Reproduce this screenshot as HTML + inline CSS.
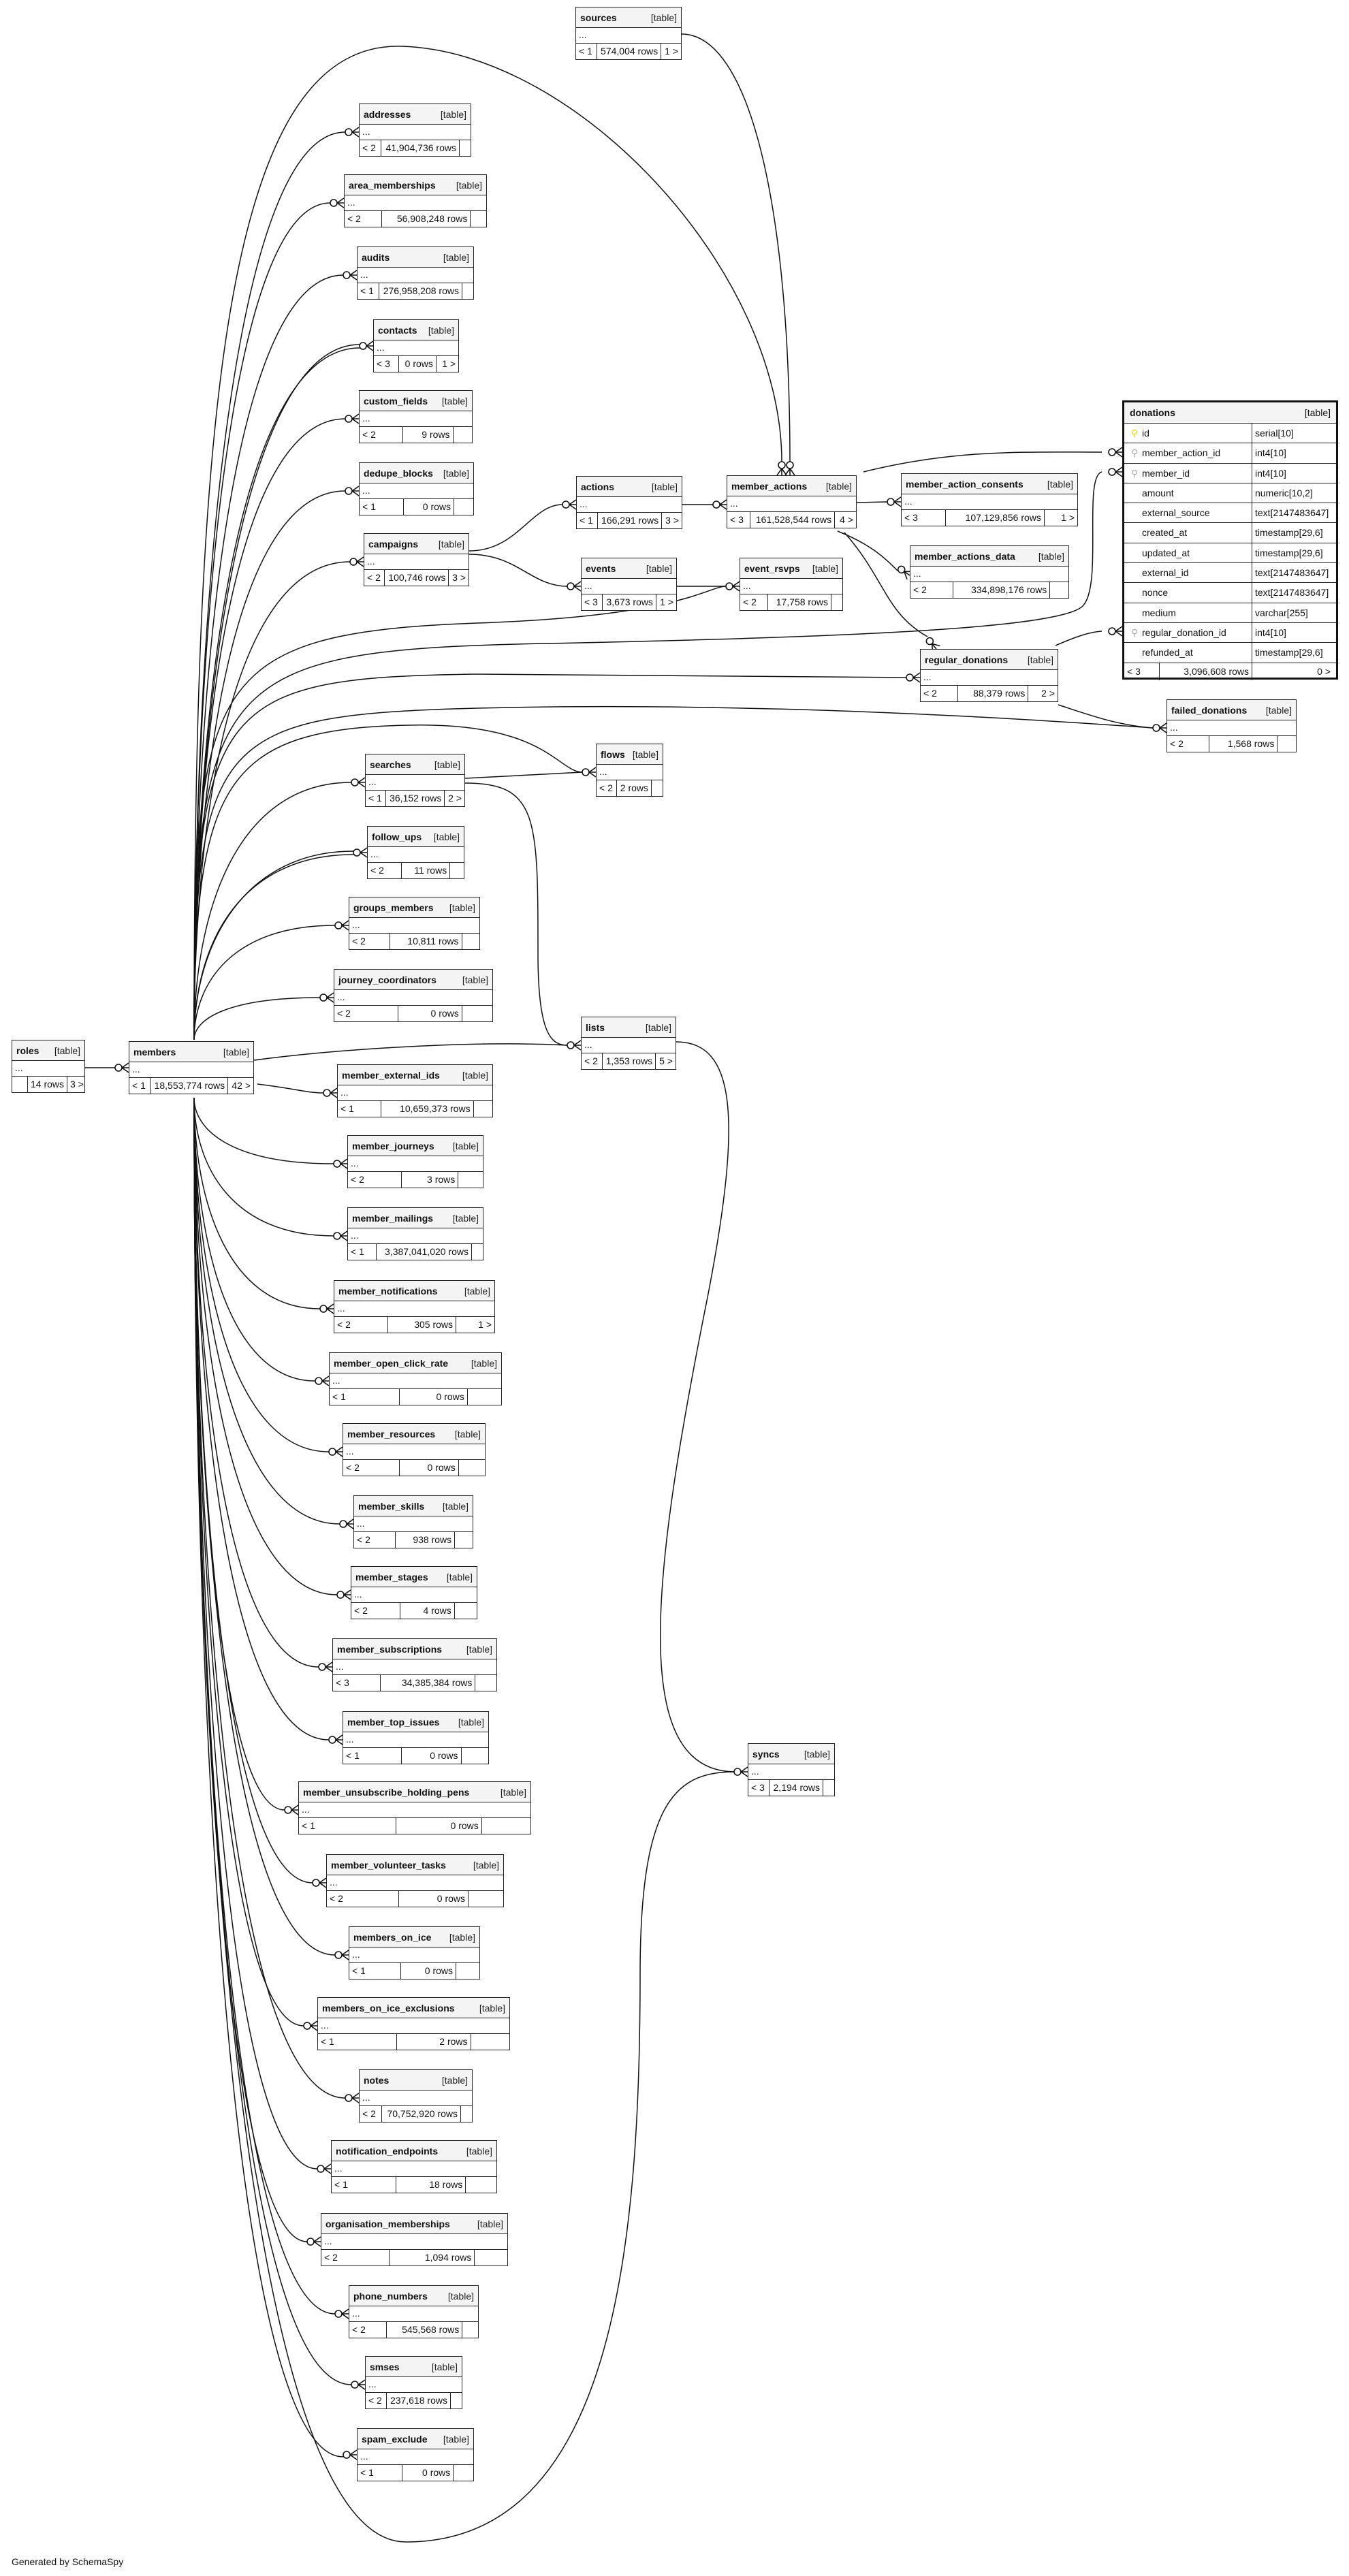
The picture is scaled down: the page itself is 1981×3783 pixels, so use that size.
<!DOCTYPE html>
<html><head><meta charset="utf-8"><style>
body{margin:0;width:1981px;height:3783px;background:#fff;position:relative;overflow:hidden;font-family:"Liberation Sans",sans-serif;font-size:14px;color:#111}
svg{position:absolute;left:0;top:0}
.t{position:absolute;border:1.5px solid #222;background:#fff;box-sizing:border-box;height:78px}
.h{height:29px;background:#f4f4f4;border-bottom:1.5px solid #222;display:flex;justify-content:space-between;align-items:center;padding:0 6px;white-space:nowrap}
.h span{color:#222}
.b{height:22px;border-bottom:1.5px solid #222;line-height:20px;padding-left:4px}
.f{display:flex;height:23px;line-height:23px}
.f span{border-left:1.5px solid #222;white-space:nowrap;box-sizing:border-box}
.f span:first-child{border-left:none}
.l{flex:4.5 1 auto;padding:0 4px;min-width:28px}
.r{flex:3 1 auto;text-align:right;padding:0 4px}
.c{flex:2.5 1 auto;min-width:17px;text-align:right;padding:0 4px}
.d{position:absolute;left:1648px;top:588px;width:317px;height:410px;border:3px solid #111;box-sizing:border-box;background:#fff}
.d .dh{height:30px;background:#f4f4f4;border-bottom:1.5px solid #222;display:flex;justify-content:space-between;align-items:center;padding:0 8px}
.d .row{display:flex;height:29.3px;line-height:28px;border-bottom:1.5px solid #222;box-sizing:border-box}
.d .row .k{width:188px;border-right:1.5px solid #222;padding-left:10px;box-sizing:border-box;position:relative}
.d .row .k i{display:inline-block;width:16px;font-style:normal}
.d .row .v{padding-left:4px}
.gen{position:absolute;left:17px;top:3754px;font-size:14px}
</style></head><body>
<svg width="1981" height="3783" viewBox="0 0 1981 3783">
<defs>
<g id="cr" fill="none" stroke="#111" stroke-width="1.6"><circle cx="-15" cy="0" r="5" fill="#fff"/><path d="M-10,0 L0,-7 M-10,0 L0,0 M-10,0 L0,7"/></g>
</defs>
<g fill="none" stroke="#111" stroke-width="1.5">
<path d="M285,1527 C285,860 345,194 507,194"/>
<path d="M285,1527 C285,912 340,298 485,298"/>
<path d="M285,1527 C285,965 345,404 504,404"/>
<path d="M285,1527 C285,1019 351,511 528,511"/>
<path d="M285,1527 C285,1017 360,506 528,506"/>
<path d="M285,1527 C285,1071 345,615 507,615"/>
<path d="M285,1527 C285,1124 345,721 507,721"/>
<path d="M285,1527 C285,1176 347,825 514,825"/>
<path d="M285,1527 C285,1338 348,1149 516,1149"/>
<path d="M285,1527 C285,1391 349,1255 519,1255"/>
<path d="M285,1527 C285,1385 360,1250 519,1250"/>
<path d="M285,1527 C285,1443 342,1359 492,1359"/>
<path d="M285,1527 C285,1496 336,1465 470,1465"/>
<path d="M378,1592 C430,1598 450,1605 475,1605"/>
<path d="M285,1612 C285,1660 341,1709 490,1709"/>
<path d="M285,1612 C285,1713 341,1815 490,1815"/>
<path d="M285,1612 C285,1767 336,1922 470,1922"/>
<path d="M285,1612 C285,1820 335,2028 463,2028"/>
<path d="M285,1612 C285,1872 340,2132 483,2132"/>
<path d="M285,1612 C285,1925 344,2238 499,2238"/>
<path d="M285,1612 C285,1977 343,2342 495,2342"/>
<path d="M285,1612 C285,2030 336,2448 468,2448"/>
<path d="M285,1612 C285,2083 340,2555 483,2555"/>
<path d="M285,1612 C285,2135 323,2658 418,2658"/>
<path d="M285,1612 C285,2188 334,2765 459,2765"/>
<path d="M285,1612 C285,2241 342,2871 492,2871"/>
<path d="M285,1612 C285,2293 330,2975 446,2975"/>
<path d="M285,1612 C285,2346 345,3081 507,3081"/>
<path d="M285,1612 C285,2398 335,3185 466,3185"/>
<path d="M285,1612 C285,2452 332,3292 451,3292"/>
<path d="M285,1612 C285,2505 342,3398 492,3398"/>
<path d="M285,1612 C285,2557 348,3502 516,3502"/>
<path d="M285,1612 C285,2610 345,3608 504,3608"/>
<path d="M125,1568 L169,1568"/>
<path d="M1001,50 C1100,50 1160,300 1160,678"/>
<path d="M285,1525 C285,600 330,60 590,68 C850,76 1148,400 1148,678"/>
<path d="M689,809 C760,809 780,741 826,741"/>
<path d="M689,814 C760,814 780,861 833,861"/>
<path d="M994,861 L1066,861"/>
<path d="M285,1525 C285,1000 300,930 700,915 C1000,905 1040,861 1066,861"/>
<path d="M1002,741 L1047,741"/>
<path d="M1258,738 L1303,737"/>
<path d="M1230,780 C1280,800 1300,820 1318,838"/>
<path d="M1240,782 C1300,850 1300,900 1362,935"/>
<path d="M1268,693 C1400,660 1500,664 1618,664"/>
<path d="M285,1525 C285,990 320,955 800,945 C1300,935 1560,920 1590,890 C1620,860 1590,700 1618,693"/>
<path d="M285,1525 C285,1030 320,995 700,990 L1331,995"/>
<path d="M285,1525 C285,1080 320,1050 700,1040 C1100,1030 1500,1055 1693,1069"/>
<path d="M1554,1035 C1600,1050 1640,1065 1693,1069"/>
<path d="M1550,948 C1580,935 1600,928 1618,927"/>
<path d="M683,1143 L855,1134"/>
<path d="M285,1525 C285,1150 330,1070 600,1065 C800,1060 820,1134 855,1134"/>
<path d="M683,1150 C790,1150 790,1200 790,1400 C790,1520 810,1535 833,1535"/>
<path d="M373,1557 C500,1540 700,1528 833,1535"/>
<path d="M993,1530 C1080,1530 1090,1640 1040,1900 C960,2300 920,2600 1078,2602"/>
<path d="M285,1612 C285,2800 380,3733 596,3733 C900,3733 940,3300 940,2900 C940,2650 990,2602 1078,2602"/>
</g>
<use href="#cr" transform="translate(527,194)"/>
<use href="#cr" transform="translate(505,298)"/>
<use href="#cr" transform="translate(524,404)"/>
<use href="#cr" transform="translate(548,508)"/>
<use href="#cr" transform="translate(527,615)"/>
<use href="#cr" transform="translate(527,721)"/>
<use href="#cr" transform="translate(534,825)"/>
<use href="#cr" transform="translate(536,1149)"/>
<use href="#cr" transform="translate(539,1252)"/>
<use href="#cr" transform="translate(512,1359)"/>
<use href="#cr" transform="translate(490,1465)"/>
<use href="#cr" transform="translate(495,1605)"/>
<use href="#cr" transform="translate(510,1709)"/>
<use href="#cr" transform="translate(510,1815)"/>
<use href="#cr" transform="translate(490,1922)"/>
<use href="#cr" transform="translate(483,2028)"/>
<use href="#cr" transform="translate(503,2132)"/>
<use href="#cr" transform="translate(519,2238)"/>
<use href="#cr" transform="translate(515,2342)"/>
<use href="#cr" transform="translate(488,2448)"/>
<use href="#cr" transform="translate(503,2555)"/>
<use href="#cr" transform="translate(438,2658)"/>
<use href="#cr" transform="translate(479,2765)"/>
<use href="#cr" transform="translate(512,2871)"/>
<use href="#cr" transform="translate(466,2975)"/>
<use href="#cr" transform="translate(527,3081)"/>
<use href="#cr" transform="translate(486,3185)"/>
<use href="#cr" transform="translate(471,3292)"/>
<use href="#cr" transform="translate(512,3398)"/>
<use href="#cr" transform="translate(536,3502)"/>
<use href="#cr" transform="translate(524,3605)"/>
<use href="#cr" transform="translate(189,1568)"/>
<use href="#cr" transform="translate(1148,698) rotate(90)"/>
<use href="#cr" transform="translate(1160,698) rotate(90)"/>
<use href="#cr" transform="translate(846,741)"/>
<use href="#cr" transform="translate(853,861)"/>
<use href="#cr" transform="translate(1086,861)"/>
<use href="#cr" transform="translate(1067,741)"/>
<use href="#cr" transform="translate(1323,737)"/>
<use href="#cr" transform="translate(1336,845) rotate(35)"/>
<use href="#cr" transform="translate(1375,953) rotate(50)"/>
<use href="#cr" transform="translate(1648,664)"/>
<use href="#cr" transform="translate(1648,693)"/>
<use href="#cr" transform="translate(1351,995)"/>
<use href="#cr" transform="translate(1713,1069)"/>
<use href="#cr" transform="translate(1648,927)"/>
<use href="#cr" transform="translate(875,1134)"/>
<use href="#cr" transform="translate(853,1535)"/>
<use href="#cr" transform="translate(1098,2602)"/>
</svg>

<div class="t" style="left:845px;top:10px;width:156px"><div class="h"><b>sources</b><span>[table]</span></div><div class="b">...</div><div class="f"><span class="l">&lt; 1</span><span class="r">574,004 rows</span><span class="c">1 &gt;</span></div></div>
<div class="t" style="left:527px;top:152px;width:165px"><div class="h"><b>addresses</b><span>[table]</span></div><div class="b">...</div><div class="f"><span class="l">&lt; 2</span><span class="r">41,904,736 rows</span><span class="c"></span></div></div>
<div class="t" style="left:505px;top:256px;width:210px"><div class="h"><b>area_memberships</b><span>[table]</span></div><div class="b">...</div><div class="f"><span class="l">&lt; 2</span><span class="r">56,908,248 rows</span><span class="c"></span></div></div>
<div class="t" style="left:524px;top:362px;width:172px"><div class="h"><b>audits</b><span>[table]</span></div><div class="b">...</div><div class="f"><span class="l">&lt; 1</span><span class="r">276,958,208 rows</span><span class="c"></span></div></div>
<div class="t" style="left:548px;top:469px;width:126px"><div class="h"><b>contacts</b><span>[table]</span></div><div class="b">...</div><div class="f"><span class="l">&lt; 3</span><span class="r">0 rows</span><span class="c">1 &gt;</span></div></div>
<div class="t" style="left:527px;top:573px;width:167px"><div class="h"><b>custom_fields</b><span>[table]</span></div><div class="b">...</div><div class="f"><span class="l">&lt; 2</span><span class="r">9 rows</span><span class="c"></span></div></div>
<div class="t" style="left:527px;top:679px;width:169px"><div class="h"><b>dedupe_blocks</b><span>[table]</span></div><div class="b">...</div><div class="f"><span class="l">&lt; 1</span><span class="r">0 rows</span><span class="c"></span></div></div>
<div class="t" style="left:534px;top:783px;width:155px"><div class="h"><b>campaigns</b><span>[table]</span></div><div class="b">...</div><div class="f"><span class="l">&lt; 2</span><span class="r">100,746 rows</span><span class="c">3 &gt;</span></div></div>
<div class="t" style="left:846px;top:699px;width:156px"><div class="h"><b>actions</b><span>[table]</span></div><div class="b">...</div><div class="f"><span class="l">&lt; 1</span><span class="r">166,291 rows</span><span class="c">3 &gt;</span></div></div>
<div class="t" style="left:853px;top:819px;width:141px"><div class="h"><b>events</b><span>[table]</span></div><div class="b">...</div><div class="f"><span class="l">&lt; 3</span><span class="r">3,673 rows</span><span class="c">1 &gt;</span></div></div>
<div class="t" style="left:1067px;top:698px;width:191px"><div class="h"><b>member_actions</b><span>[table]</span></div><div class="b">...</div><div class="f"><span class="l">&lt; 3</span><span class="r">161,528,544 rows</span><span class="c">4 &gt;</span></div></div>
<div class="t" style="left:1086px;top:819px;width:152px"><div class="h"><b>event_rsvps</b><span>[table]</span></div><div class="b">...</div><div class="f"><span class="l">&lt; 2</span><span class="r">17,758 rows</span><span class="c"></span></div></div>
<div class="t" style="left:1323px;top:695px;width:260px"><div class="h"><b>member_action_consents</b><span>[table]</span></div><div class="b">...</div><div class="f"><span class="l">&lt; 3</span><span class="r">107,129,856 rows</span><span class="c">1 &gt;</span></div></div>
<div class="t" style="left:1336px;top:801px;width:234px"><div class="h"><b>member_actions_data</b><span>[table]</span></div><div class="b">...</div><div class="f"><span class="l">&lt; 2</span><span class="r">334,898,176 rows</span><span class="c"></span></div></div>
<div class="t" style="left:1351px;top:953px;width:203px"><div class="h"><b>regular_donations</b><span>[table]</span></div><div class="b">...</div><div class="f"><span class="l">&lt; 2</span><span class="r">88,379 rows</span><span class="c">2 &gt;</span></div></div>
<div class="t" style="left:1713px;top:1027px;width:191px"><div class="h"><b>failed_donations</b><span>[table]</span></div><div class="b">...</div><div class="f"><span class="l">&lt; 2</span><span class="r">1,568 rows</span><span class="c"></span></div></div>
<div class="t" style="left:536px;top:1107px;width:147px"><div class="h"><b>searches</b><span>[table]</span></div><div class="b">...</div><div class="f"><span class="l">&lt; 1</span><span class="r">36,152 rows</span><span class="c">2 &gt;</span></div></div>
<div class="t" style="left:875px;top:1092px;width:99px"><div class="h"><b>flows</b><span>[table]</span></div><div class="b">...</div><div class="f"><span class="l">&lt; 2</span><span class="r">2 rows</span><span class="c"></span></div></div>
<div class="t" style="left:539px;top:1213px;width:143px"><div class="h"><b>follow_ups</b><span>[table]</span></div><div class="b">...</div><div class="f"><span class="l">&lt; 2</span><span class="r">11 rows</span><span class="c"></span></div></div>
<div class="t" style="left:512px;top:1317px;width:193px"><div class="h"><b>groups_members</b><span>[table]</span></div><div class="b">...</div><div class="f"><span class="l">&lt; 2</span><span class="r">10,811 rows</span><span class="c"></span></div></div>
<div class="t" style="left:490px;top:1423px;width:234px"><div class="h"><b>journey_coordinators</b><span>[table]</span></div><div class="b">...</div><div class="f"><span class="l">&lt; 2</span><span class="r">0 rows</span><span class="c"></span></div></div>
<div class="t" style="left:853px;top:1493px;width:140px"><div class="h"><b>lists</b><span>[table]</span></div><div class="b">...</div><div class="f"><span class="l">&lt; 2</span><span class="r">1,353 rows</span><span class="c">5 &gt;</span></div></div>
<div class="t" style="left:17px;top:1527px;width:108px"><div class="h"><b>roles</b><span>[table]</span></div><div class="b">...</div><div class="f"><span class="l" style="flex:0 0 22px;min-width:22px"></span><span class="r">14 rows</span><span class="c">3 &gt;</span></div></div>
<div class="t" style="left:189px;top:1529px;width:184px"><div class="h"><b>members</b><span>[table]</span></div><div class="b">...</div><div class="f"><span class="l">&lt; 1</span><span class="r">18,553,774 rows</span><span class="c">42 &gt;</span></div></div>
<div class="t" style="left:495px;top:1563px;width:229px"><div class="h"><b>member_external_ids</b><span>[table]</span></div><div class="b">...</div><div class="f"><span class="l">&lt; 1</span><span class="r">10,659,373 rows</span><span class="c"></span></div></div>
<div class="t" style="left:510px;top:1667px;width:200px"><div class="h"><b>member_journeys</b><span>[table]</span></div><div class="b">...</div><div class="f"><span class="l">&lt; 2</span><span class="r">3 rows</span><span class="c"></span></div></div>
<div class="t" style="left:510px;top:1773px;width:200px"><div class="h"><b>member_mailings</b><span>[table]</span></div><div class="b">...</div><div class="f"><span class="l">&lt; 1</span><span class="r">3,387,041,020 rows</span><span class="c"></span></div></div>
<div class="t" style="left:490px;top:1880px;width:237px"><div class="h"><b>member_notifications</b><span>[table]</span></div><div class="b">...</div><div class="f"><span class="l">&lt; 2</span><span class="r">305 rows</span><span class="c">1 &gt;</span></div></div>
<div class="t" style="left:483px;top:1986px;width:254px"><div class="h"><b>member_open_click_rate</b><span>[table]</span></div><div class="b">...</div><div class="f"><span class="l">&lt; 1</span><span class="r">0 rows</span><span class="c"></span></div></div>
<div class="t" style="left:503px;top:2090px;width:210px"><div class="h"><b>member_resources</b><span>[table]</span></div><div class="b">...</div><div class="f"><span class="l">&lt; 2</span><span class="r">0 rows</span><span class="c"></span></div></div>
<div class="t" style="left:519px;top:2196px;width:176px"><div class="h"><b>member_skills</b><span>[table]</span></div><div class="b">...</div><div class="f"><span class="l">&lt; 2</span><span class="r">938 rows</span><span class="c"></span></div></div>
<div class="t" style="left:515px;top:2300px;width:186px"><div class="h"><b>member_stages</b><span>[table]</span></div><div class="b">...</div><div class="f"><span class="l">&lt; 2</span><span class="r">4 rows</span><span class="c"></span></div></div>
<div class="t" style="left:488px;top:2406px;width:242px"><div class="h"><b>member_subscriptions</b><span>[table]</span></div><div class="b">...</div><div class="f"><span class="l">&lt; 3</span><span class="r">34,385,384 rows</span><span class="c"></span></div></div>
<div class="t" style="left:503px;top:2513px;width:215px"><div class="h"><b>member_top_issues</b><span>[table]</span></div><div class="b">...</div><div class="f"><span class="l">&lt; 1</span><span class="r">0 rows</span><span class="c"></span></div></div>
<div class="t" style="left:438px;top:2616px;width:342px"><div class="h"><b>member_unsubscribe_holding_pens</b><span>[table]</span></div><div class="b">...</div><div class="f"><span class="l">&lt; 1</span><span class="r">0 rows</span><span class="c"></span></div></div>
<div class="t" style="left:479px;top:2723px;width:261px"><div class="h"><b>member_volunteer_tasks</b><span>[table]</span></div><div class="b">...</div><div class="f"><span class="l">&lt; 2</span><span class="r">0 rows</span><span class="c"></span></div></div>
<div class="t" style="left:512px;top:2829px;width:193px"><div class="h"><b>members_on_ice</b><span>[table]</span></div><div class="b">...</div><div class="f"><span class="l">&lt; 1</span><span class="r">0 rows</span><span class="c"></span></div></div>
<div class="t" style="left:466px;top:2933px;width:283px"><div class="h"><b>members_on_ice_exclusions</b><span>[table]</span></div><div class="b">...</div><div class="f"><span class="l">&lt; 1</span><span class="r">2 rows</span><span class="c"></span></div></div>
<div class="t" style="left:527px;top:3039px;width:167px"><div class="h"><b>notes</b><span>[table]</span></div><div class="b">...</div><div class="f"><span class="l">&lt; 2</span><span class="r">70,752,920 rows</span><span class="c"></span></div></div>
<div class="t" style="left:486px;top:3143px;width:244px"><div class="h"><b>notification_endpoints</b><span>[table]</span></div><div class="b">...</div><div class="f"><span class="l">&lt; 1</span><span class="r">18 rows</span><span class="c"></span></div></div>
<div class="t" style="left:471px;top:3250px;width:275px"><div class="h"><b>organisation_memberships</b><span>[table]</span></div><div class="b">...</div><div class="f"><span class="l">&lt; 2</span><span class="r">1,094 rows</span><span class="c"></span></div></div>
<div class="t" style="left:512px;top:3356px;width:191px"><div class="h"><b>phone_numbers</b><span>[table]</span></div><div class="b">...</div><div class="f"><span class="l">&lt; 2</span><span class="r">545,568 rows</span><span class="c"></span></div></div>
<div class="t" style="left:536px;top:3460px;width:143px"><div class="h"><b>smses</b><span>[table]</span></div><div class="b">...</div><div class="f"><span class="l">&lt; 2</span><span class="r">237,618 rows</span><span class="c"></span></div></div>
<div class="t" style="left:524px;top:3566px;width:172px"><div class="h"><b>spam_exclude</b><span>[table]</span></div><div class="b">...</div><div class="f"><span class="l">&lt; 1</span><span class="r">0 rows</span><span class="c"></span></div></div>
<div class="t" style="left:1098px;top:2560px;width:128px"><div class="h"><b>syncs</b><span>[table]</span></div><div class="b">...</div><div class="f"><span class="l">&lt; 3</span><span class="r">2,194 rows</span><span class="c"></span></div></div>

<div class="d">
<div class="dh"><b>donations</b><span>[table]</span></div>
<div class="row"><div class="k"><i style="color:#e6d800">&#9906;</i>id</div><div class="v">serial[10]</div></div>
<div class="row"><div class="k"><i style="color:#aaa">&#9906;</i>member_action_id</div><div class="v">int4[10]</div></div>
<div class="row"><div class="k"><i style="color:#aaa">&#9906;</i>member_id</div><div class="v">int4[10]</div></div>
<div class="row"><div class="k"><i></i>amount</div><div class="v">numeric[10,2]</div></div>
<div class="row"><div class="k"><i></i>external_source</div><div class="v">text[2147483647]</div></div>
<div class="row"><div class="k"><i></i>created_at</div><div class="v">timestamp[29,6]</div></div>
<div class="row"><div class="k"><i></i>updated_at</div><div class="v">timestamp[29,6]</div></div>
<div class="row"><div class="k"><i></i>external_id</div><div class="v">text[2147483647]</div></div>
<div class="row"><div class="k"><i></i>nonce</div><div class="v">text[2147483647]</div></div>
<div class="row"><div class="k"><i></i>medium</div><div class="v">varchar[255]</div></div>
<div class="row"><div class="k"><i style="color:#aaa">&#9906;</i>regular_donation_id</div><div class="v">int4[10]</div></div>
<div class="row"><div class="k"><i></i>refunded_at</div><div class="v">timestamp[29,6]</div></div>
<div style="display:flex;height:25px;line-height:24px"><span style="width:52px;border-right:1.5px solid #222;padding-left:4px;box-sizing:border-box">&lt; 3</span><span style="width:136px;border-right:1.5px solid #222;text-align:right;padding-right:4px;box-sizing:border-box">3,096,608 rows</span><span style="flex:1;text-align:right;padding-right:8px">0 &gt;</span></div>
</div>

<div class="gen">Generated by SchemaSpy</div>
</body></html>
